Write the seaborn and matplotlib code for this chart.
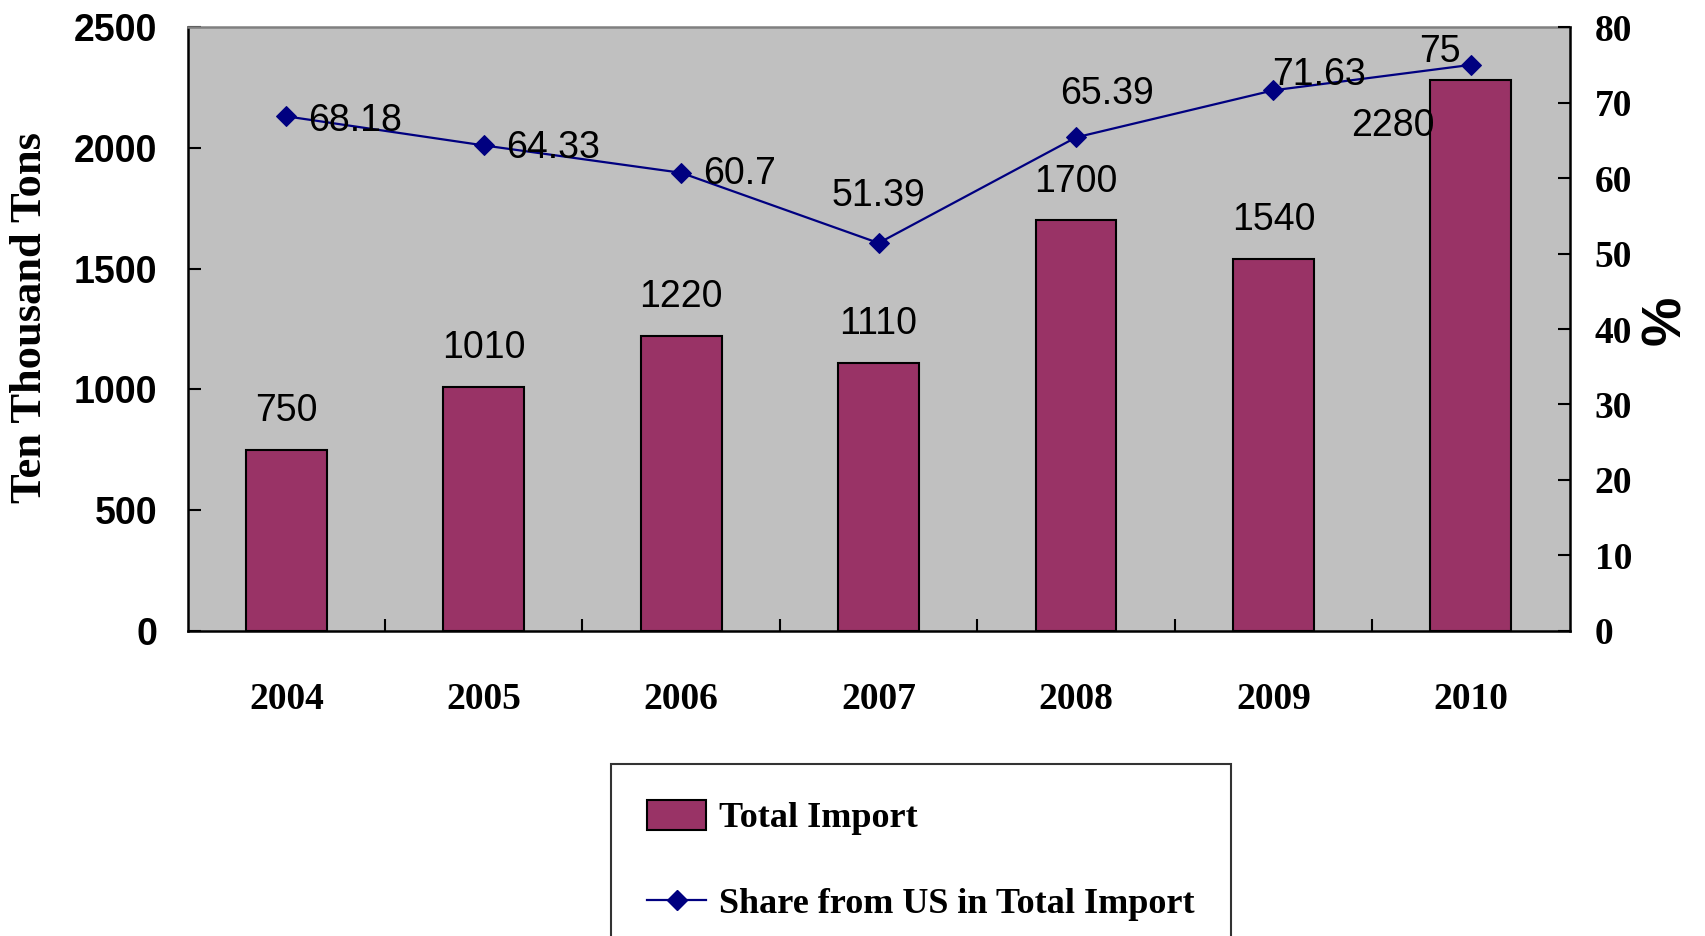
import numpy as np
import seaborn as sns
import matplotlib.pyplot as plt
from matplotlib.patches import Patch
from matplotlib.lines import Line2D

# data
years = ['2004', '2005', '2006', '2007', '2008', '2009', '2010']
total_import = [750, 1010, 1220, 1110, 1700, 1540, 2280]
us_share = [68.18, 64.33, 60.7, 51.39, 65.39, 71.63, 75]
left_ticks = [0, 500, 1000, 1500, 2000, 2500]
right_ticks = [0, 10, 20, 30, 40, 50, 60, 70, 80]

# label offsets (points) - hand placed like the original
bar_label_offsets = [(0, 15), (0, 15), (0, 15), (0, 15), (0, 15), (0, 15), (-56, -33)]
share_label_offsets = [(16, -3), (16, -2), (16, -1), (0, 34), (22, 31), (33, 11), (-22, 9)]
share_label_ha = ['left', 'left', 'left', 'center', 'center', 'center', 'center']

bar_color = '#993366'
line_color = '#000080'
serif = 'Liberation Serif'
sans = 'Liberation Sans'

fig = plt.figure(figsize=(17.06, 9.36), dpi=100)
ax = fig.add_axes([0.110, 0.326, 0.810, 0.645])
ax.set_facecolor('#C0C0C0')

# bars
sns.barplot(x=years, y=total_import, ax=ax, color=bar_color, saturation=1,
            edgecolor='black', linewidth=1.5, width=0.41)
ax.set_xlim(-0.5, len(years) - 0.5)
ax.set_ylim(0, 2500)
ax.set_xlabel('')
ax.set_ylabel('')

# line on second axis
ax2 = ax.twinx()
x_pos = np.arange(len(years))
sns.lineplot(x=x_pos, y=us_share, ax=ax2, color=line_color, linewidth=1.6,
             marker='D', markersize=10, markeredgecolor=line_color)
ax2.set_ylim(0, 80)
ax2.set_xlim(-0.5, len(years) - 0.5)
ax2.set_ylabel('')

# value labels
for i, v in enumerate(total_import):
    ax.annotate(str(v), (i, v), xytext=bar_label_offsets[i], textcoords='offset points',
                ha='center', va='bottom' if bar_label_offsets[i][1] > 0 else 'center',
                fontsize=27, family=sans)
for i, v in enumerate(us_share):
    ax2.annotate(f'{v:g}', (i, v), xytext=share_label_offsets[i], textcoords='offset points',
                 ha=share_label_ha[i], va='center', fontsize=27, family=sans)

# axes styling
ax.set_yticks(left_ticks)
ax.set_yticklabels([str(t) for t in left_ticks], family=sans, fontweight='bold', fontsize=27)
ax.tick_params(axis='y', direction='in', length=9, width=1.5, pad=22)
ax.set_xticks(x_pos)
ax.set_xticklabels(years, family=serif, fontweight='bold', fontsize=27)
ax.tick_params(axis='x', which='major', length=0, pad=37)
ax.set_xticks(x_pos[:-1] + 0.5, minor=True)
ax.tick_params(axis='x', which='minor', direction='in', length=9, width=1.5)

ax2.set_yticks(right_ticks)
ax2.set_yticklabels([str(t) for t in right_ticks], family=serif, fontweight='bold', fontsize=27)
ax2.tick_params(axis='y', direction='in', length=9, width=1.5, pad=18)

for s in ['left', 'bottom']:
    ax.spines[s].set_color('black')
    ax.spines[s].set_linewidth(1.8)
ax.spines['top'].set_color('#808080')
ax.spines['top'].set_linewidth(1.8)
ax.spines['right'].set_visible(False)
ax2.spines['right'].set_color('black')
ax2.spines['right'].set_linewidth(1.8)
for s in ['left', 'top', 'bottom']:
    ax2.spines[s].set_visible(False)

# axis titles
fig.text(0.0175, 0.4626, 'Ten Thousand Tons', rotation=90, ha='center', va='bottom',
         family=serif, fontweight='bold', fontsize=32)
fig.text(0.9766, 0.658, '%', rotation=90, ha='center', va='center',
         family=sans, fontweight='bold', fontsize=40)

# legend
handles = [Patch(facecolor=bar_color, edgecolor='black', linewidth=1.5),
           Line2D([0], [0], color=line_color, linewidth=1.6, marker='D',
                  markersize=10, markeredgecolor=line_color)]
labels = ['Total Import', 'Share from US in Total Import']
leg = fig.legend(handles, labels, loc='upper left', bbox_to_anchor=(0.358, 0.184),
                 bbox_transform=fig.transFigure, frameon=True, fancybox=False,
                 edgecolor='black', borderpad=1.0, borderaxespad=0, handlelength=1.65,
                 handleheight=0.9, handletextpad=0.35, labelspacing=1.4,
                 prop={'family': serif, 'weight': 'bold', 'size': 26})
leg.get_frame().set_linewidth(1.5)

plt.savefig('out.png', dpi=100)
plt.close()
